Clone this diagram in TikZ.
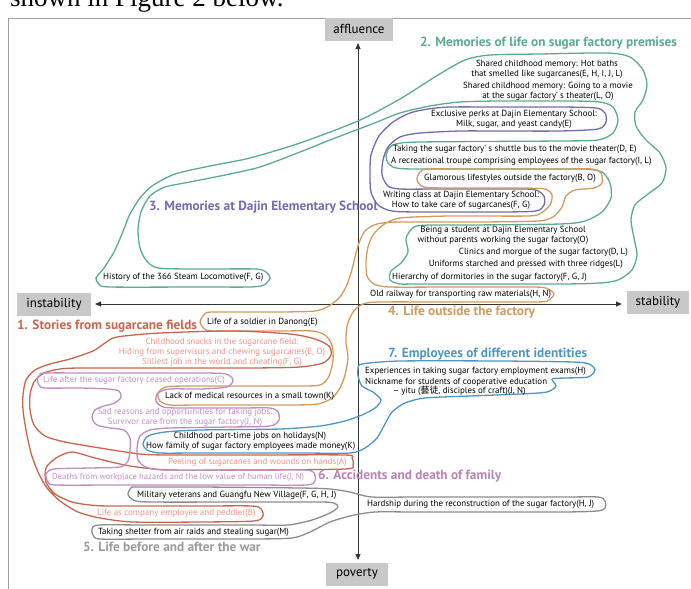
\documentclass[tikz,border=0pt]{standalone}
\usepackage{fontspec}
\setmainfont{PT Sans}
\newfontfamily\cjk{Noto Sans CJK TC}
\newfontfamily\cutserif{Liberation Serif}
\usetikzlibrary{arrows.meta}
\definecolor{cteal}{RGB}{92,170,150}
\definecolor{cpurple}{RGB}{122,104,174}
\definecolor{corange}{RGB}{211,154,94}
\definecolor{cred}{RGB}{201,101,78}
\definecolor{cpink}{RGB}{240,146,138}
\definecolor{clav}{RGB}{195,142,195}
\definecolor{clavline}{RGB}{190,140,190}
\definecolor{ctitlesix}{RGB}{185,132,179}
\definecolor{cblue}{RGB}{75,151,193}
\definecolor{cgray}{RGB}{140,140,140}
\definecolor{ctitlefive}{RGB}{155,155,155}
\definecolor{axisbox}{RGB}{200,200,200}
\definecolor{framegray}{RGB}{160,160,160}
\newcommand\itf{\fontsize{8.9}{10}\selectfont}
\newcommand\ttf{\fontsize{13.3}{15}\selectfont\bfseries}
\newcommand\axf{\fontsize{13}{15}\selectfont}
\begin{document}
\begin{tikzpicture}[x=1pt,y=-1pt,
  itm/.style={font=\itf, inner sep=0pt, align=center},
  ttl/.style={font=\ttf, inner sep=0pt, anchor=west},
  axlbl/.style={fill=axisbox, font=\axf, inner sep=0pt, minimum height=23pt},
  grp/.style={line width=1.3pt, line join=round},
  sm/.style={smooth cycle, tension=0.45},
  axis/.style={line width=0.8pt, draw=black!80, {Triangle[length=6pt,width=5pt]}-{Triangle[length=6pt,width=5pt]}}]
\useasboundingbox (0,0) rectangle (691,589);
% cut-off text of the page above
\node[anchor=base west, inner sep=0pt, font=\cutserif\fontsize{27}{27}\selectfont] (cut) at (10,6) {shown in Figure 2 below.};
% frame
\draw[framegray, line width=0.8pt] (8,589) -- (8,18) -- (691,18);
% axis labels
\node[axlbl, minimum width=68pt] (aff) at (359,29) {affluence};
\node[axlbl, minimum width=62pt] (pov) at (357,574) {poverty};
\node[axlbl, minimum width=74pt] (inst) at (54,304) {instability};
\node[axlbl, minimum width=62pt] (stab) at (658,302) {stability};
\coordinate (vt) at (358,43);
\coordinate (vb) at (358,560);
\coordinate (hl) at (95,304);
\coordinate (hr) at (622,304);
\draw[axis] (vt) -- (vb);
\draw[axis] (hl) -- (hr);

% group 2 teal
\draw[cteal, grp] plot[sm] coordinates {
 (96,278) (104,268) (114,252) (122,234) (130,214) (140,198) (152,186) (175,174)
 (210,166) (250,158) (300,143) (358,121) (400,99) (438,75) (465,60) (490,55)
 (540,54) (607,53) (630,57) (643,70) (647,85) (643,100) (635,112) (636,126)
 (646,140) (660,153) (666,168) (662,183) (648,194) (635,205) (631,220) (634,238)
 (637,255) (632,270) (618,280) (600,283) (560,284) (420,284) (400,284) (390,280)
 (391,271) (401,263) (408,252) (406,238) (414,227) (430,225) (470,225) (560,224)
 (585,221) (602,212) (611,198) (610,183) (602,172) (585,169) (560,169) (420,169)
 (396,168) (388,163) (386,156) (389,148) (396,144) (420,142) (560,141) (598,140)
 (613,133) (618,120) (613,107) (600,102) (570,101) (500,101) (460,102) (430,106)
 (400,113) (372,124) (330,140) (300,152) (260,167) (225,175) (190,182) (165,187)
 (150,196) (141,212) (138,230) (140,248) (146,260) (158,268) (200,269) (255,269)
 (266,272) (270,278) (264,285) (250,287) (200,287) (110,287) (99,284)};
% group 3 purple
\draw[cpurple, grp] plot[sm] coordinates {
 (450,107) (500,107) (560,107) (596,108) (605,113) (606,122) (598,129) (560,131)
 (500,131) (460,131) (420,133) (400,137) (388,147) (383,160) (382,175) (388,186)
 (400,189) (440,189) (520,189) (536,190) (544,196) (544,205) (536,211) (500,212)
 (420,212) (392,211) (378,205) (371,192) (370,175) (371,155) (379,136) (393,122)
 (410,113) (428,109)};
% group 4 orange
\draw[corange, grp] plot[sm] coordinates {
 (428,169) (470,169) (560,169) (592,169) (601,173) (602,183) (594,188) (575,190)
 (566,196) (562,207) (553,217) (538,221) (480,222) (400,222) (377,224) (365,231)
 (359,243) (355,257) (351,273) (346,287) (339,298) (329,306) (315,311) (280,312)
 (220,312) (206,313) (200,322) (206,330) (220,331) (280,331) (312,331) (325,335)
 (332,345) (333,360) (329,376) (320,385) (290,386) (190,386) (166,387) (158,393)
 (160,401) (170,405) (200,405) (290,405) (318,404) (332,398) (340,388) (345,375)
 (348,358) (346,342) (347,326) (353,312) (363,304) (380,302) (450,302) (530,302)
 (547,301) (554,294) (546,288) (530,287) (450,287) (390,287) (374,284) (367,276)
 (366,261) (368,247) (373,235) (383,225) (400,218) (450,216) (528,216) (541,213)
 (550,205) (552,195) (545,189) (520,188) (450,188) (424,187) (417,180) (420,172)};
% group 1 red
\draw[cred, grp] plot[sm] coordinates {
 (117,337) (160,333) (233,331) (290,334) (315,339) (329,346) (331,355) (323,363)
 (300,367) (250,368) (150,368) (80,368) (60,369) (44,373) (34,382) (30,395)
 (30,410) (34,425) (45,436) (65,442) (100,448) (140,454) (170,455) (250,455)
 (345,455) (352,458) (353,465) (345,469) (250,470) (170,470) (130,466) (95,458)
 (72,452) (56,458) (46,468) (46,482) (55,494) (72,502) (90,505) (110,506)
 (200,506) (252,506) (261,509) (263,516) (254,521) (200,522) (133,522) (100,518)
 (78,512) (60,501) (47,488) (38,472) (31,453) (26,430) (23,410) (23,395)
 (26,380) (35,370) (50,364) (70,359) (93,351) (105,343)};
% group 6 lavender
\draw[clavline, grp] plot[sm] coordinates {
 (45,373) (100,373) (200,373) (226,374) (233,380) (227,387) (200,389) (170,389)
 (158,393) (156,401) (163,407) (180,408) (240,408) (270,408) (278,412) (279,420)
 (270,426) (230,427) (170,428) (150,430) (140,436) (137,448) (138,460) (146,467)
 (165,470) (250,470) (305,470) (314,473) (315,481) (306,485) (250,485) (120,485)
 (56,485) (48,482) (46,474) (54,469) (90,468) (120,467) (128,461) (130,450)
 (130,438) (124,430) (110,428) (97,425) (92,418) (95,410) (104,406) (115,403)
 (121,397) (119,391) (108,389) (80,388) (45,388) (39,385) (37,379) (40,375)};
% group 7 blue
\draw[cblue, grp] plot[sm] coordinates {
 (362,364) (400,361) (500,361) (573,362) (589,364) (595,370) (588,377) (565,378)
 (552,379) (556,386) (547,392) (520,394) (470,396) (425,398) (405,403) (392,412)
 (385,424) (377,438) (365,448) (350,453) (300,453) (200,453) (160,453) (147,450)
 (143,444) (148,436) (165,432) (200,430) (280,429) (320,426) (345,421) (362,415)
 (375,408) (381,400) (373,392) (362,386) (358,376) (358,369)};
% group 5 gray
\draw[cgray, grp] plot[sm] coordinates {
 (137,487) (200,487) (300,488) (330,489) (350,492) (372,497) (420,497) (560,497)
 (598,497) (605,501) (605,508) (597,511) (560,512) (420,512) (375,512) (350,516)
 (330,522) (310,532) (292,538) (250,539) (150,539) (100,539) (93,535) (92,529)
 (99,525) (150,525) (250,525) (288,525) (312,520) (330,513) (338,507) (334,503)
 (320,502) (250,502) (150,502) (133,500) (128,494) (131,488)};

% titles
\node[ttl, cteal] (t2) at (420,43) {2. Memories of life on sugar factory premises};
\node[ttl, cpurple] (t3) at (149,207) {3. Memories at Dajin Elementary School};
\node[ttl, cred] (t1) at (17,326) {1. Stories from sugarcane fields};
\node[ttl, corange] (t4) at (388,312) {4. Life outside the factory};
\node[ttl, cblue] (t7) at (388,354) {7. Employees of different identities};
\node[ttl, ctitlesix] (t6) at (318,476) {6. Accidents and death of family};
\node[ttl, ctitlefive] (t5) at (83,547) {5. Life before and after the war};

% items
\node[itm] (hot) at (547,69) {Shared childhood memory: Hot baths\\that smelled like sugarcanes(E, H, I, J, L)};
\node[itm] (movie) at (548,91) {Shared childhood memory: Going to a movie\\at the sugar factory’ s theater(L, O)};
\node[itm] (perks) at (514,119.5) {Exclusive perks at Dajin Elementary School:\\Milk, sugar, and yeast candy(E)};
\node[itm, anchor=west] (shuttle) at (393,149) {Taking the sugar factory’ s shuttle bus to the movie theater(D, E)};
\node[itm, anchor=west] (troupe) at (391,161) {A recreational troupe comprising employees of the sugar factory(I, L)};
\node[itm] (glam) at (510,178) {Glamorous lifestyles outside the factory(B, O)};
\node[itm] (writing) at (461,200.5) {Writing class at Dajin Elementary School:\\How to take care of sugarcanes(F, G)};
\node[itm] (student) at (503,235) {Being a student at Dajin Elementary School\\without parents working the sugar factory(O)};
\node[itm, anchor=east] (clinic) at (628,252) {Clinics and morgue of the sugar factory(D, L)};
\node[itm, anchor=east] (uniform) at (623,264) {Uniforms starched and pressed with three ridges(L)};
\node[itm, anchor=west] (hier) at (392,277) {Hierarchy of dormitories in the sugar factory(F, G, J)};
\node[itm, anchor=west] (rail) at (370,294) {Old railway for transporting raw materials(H, N)};
\node[itm, anchor=west] (loco) at (103,277) {History of the 366 Steam Locomotive(F, G)};
\node[itm, anchor=west] (soldier) at (207,322) {Life of a soldier in Danong(E)};
\node[itm, cpink] (snacks) at (222,352) {Childhood snacks in the sugarcane field:\\Hiding from supervisors and chewing sugarcanes(E, O)\\Silliest job in the world and cheating(F, G)};
\node[itm, clav, anchor=west] (after) at (43,380) {Life after the sugar factory ceased operations(C)};
\node[itm, anchor=west] (lack) at (165,396) {Lack of medical resources in a small town(K)};
\node[itm, clav] (sad) at (185,417) {Sad reasons and opportunities for taking jobs:\\Survivor care from the sugar factory(J, N)};
\node[itm, anchor=west] (exam) at (365,371) {Experiences in taking sugar factory employment exams(H)};
\node[itm, anchor=west] (nick) at (365,382) {Nickname for students of cooperative education};
\node[itm, anchor=west] (yitu) at (393,391) {– yitu ({\cjk 藝徒}, disciples of craft)(J, N)};
\node[itm] (parttime) at (250,436) {Childhood part-time jobs on holidays(N)};
\node[itm, anchor=west] (family) at (146,446) {How family of sugar factory employees made money(K)};
\node[itm, cpink, anchor=west] (peel) at (168,462) {Peeling of sugarcanes and wounds on hands(A)};
\node[itm, clav, anchor=west, font=\fontsize{8.6}{10}\selectfont] (deaths) at (52,477) {Deaths from workplace hazards and the low value of human life(J, N)};
\node[itm, anchor=west] (military) at (137,495) {Military veterans and Guangfu New Village(F, G, H, J)};
\node[itm, anchor=west] (hard) at (367,504) {Hardship during the reconstruction of the sugar factory(H, J)};
\node[itm, cpink, anchor=west] (company) at (97,513) {Life as company employee and peddler(B)};
\node[itm, anchor=west] (shelter) at (98,532) {Taking shelter from air raids and stealing sugar(M)};
\end{tikzpicture}
\end{document}
